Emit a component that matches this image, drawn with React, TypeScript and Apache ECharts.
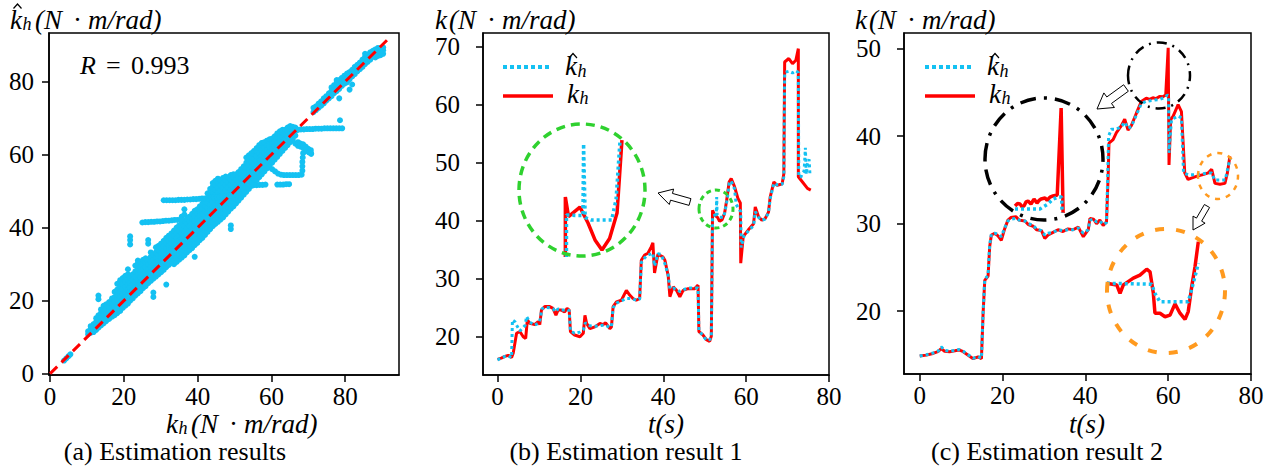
import React, { useEffect, useRef } from 'react';
import * as echarts from 'echarts';

// ---------------- DATA ----------------
const TICKS_A = [0, 20, 40, 60, 80];
const TICKS_T = [0, 20, 40, 60, 80];
const TICKS_KB = [20, 30, 40, 50, 60, 70];
const TICKS_KC = [20, 30, 40, 50];

// (a) scatter: columns of k_h value -> estimated values
const scatterColumns: Array<[number, number[]]> = [
  [3.8, [3.6]], [4.4, [4.2]], [5.0, [4.8]], [5.5, [5.3]],
  [10.3, [10.8, 11.6]], [11.0, [11.2, 12.2, 13.0]], [11.8, [11.4, 12.4, 13.6]],
  [12.5, [12.0, 13.0, 14.2, 15.2]], [13.1, [12.6, 13.6, 14.8, 16.0, 20.4, 21.4]],
  [13.8, [13.2, 14.2, 15.4, 16.6, 17.6]], [14.5, [13.8, 14.8, 16.0, 17.2, 18.6]],
  [15.2, [14.4, 15.4, 16.6, 17.8, 19.0]], [16.0, [15.0, 16.0, 17.2, 18.4, 19.6]],
  [16.8, [15.6, 16.8, 18.0, 19.2, 20.6]], [17.5, [16.0, 17.4, 18.6, 19.8, 21.0, 22.4]],
  [18.2, [16.6, 17.8, 19.0, 20.2, 21.6, 23.0, 24.6]], [19.0, [17.2, 18.4, 19.6, 21.0, 22.4, 23.8, 25.6]],
  [19.7, [18.0, 19.2, 20.4, 21.8, 23.2, 24.6, 26.2]], [20.4, [18.6, 19.8, 21.0, 22.4, 23.8, 25.2, 26.8]],
  [21.1, [19.2, 20.4, 21.6, 23.0, 24.4, 25.8, 27.2, 28.6]], [21.7, [20.0, 21.2, 22.4, 23.6, 25.0, 26.4, 35.4, 36.6, 37.6]],
  [22.4, [20.6, 21.8, 23.0, 24.4, 25.8, 27.2]], [23.1, [21.4, 22.6, 23.8, 25.2, 26.6, 28.0, 29.6]],
  [23.8, [22.0, 23.2, 24.4, 25.8, 27.2, 28.6, 30.2, 31.0]], [24.5, [22.6, 23.8, 25.0, 26.4, 27.8, 29.2, 30.6]],
  [25.2, [23.4, 24.6, 25.8, 27.2, 28.6, 30.0, 31.2]], [25.9, [24.0, 25.2, 26.4, 27.8, 29.2, 30.6, 31.6]],
  [26.6, [24.8, 26.0, 27.2, 28.6, 30.0, 31.2, 35.6, 36.6]], [27.3, [25.4, 26.6, 27.8, 29.2, 30.6, 32.0, 33.2]],
  [28.0, [21.0, 22.2, 26.0, 27.2, 28.4, 29.8, 31.2, 32.6]], [28.7, [26.6, 27.8, 29.0, 30.4, 31.8, 33.2, 34.6]],
  [29.4, [27.2, 28.4, 29.6, 31.0, 32.4, 33.8, 35.0]], [30.1, [27.8, 29.0, 30.2, 31.6, 33.0, 34.4, 35.6]],
  [30.8, [28.4, 29.6, 30.8, 32.2, 33.6, 35.0, 36.4]], [31.5, [24.4, 29.2, 30.4, 31.6, 33.0, 34.4, 35.8, 37.2]],
  [32.2, [29.8, 31.0, 32.2, 33.6, 35.0, 36.4, 37.8]], [32.9, [30.4, 31.6, 32.8, 34.2, 35.6, 37.0, 38.4]],
  [33.6, [30.0, 31.2, 32.4, 33.6, 35.0, 36.4, 37.8, 39.2]], [34.3, [30.6, 31.8, 33.0, 34.4, 35.8, 37.2, 38.6, 40.0]],
  [35.0, [31.2, 32.4, 33.6, 35.0, 36.4, 37.8, 39.2, 40.6]], [35.7, [31.8, 33.0, 34.2, 35.6, 37.0, 38.4, 39.8, 41.2, 43.0]],
  [36.4, [32.4, 33.6, 34.8, 36.2, 37.6, 39.0, 40.4, 41.8, 43.6, 45.0]], [37.1, [33.2, 34.4, 35.6, 37.0, 38.4, 39.8, 41.2, 42.4]],
  [37.8, [33.8, 35.0, 36.2, 37.6, 39.0, 40.4, 41.8, 43.0]], [38.5, [34.4, 35.6, 36.8, 38.2, 39.6, 41.0, 42.4, 43.8]],
  [39.2, [32.0, 35.2, 36.4, 37.6, 39.0, 40.4, 41.8, 43.2, 44.6]], [39.9, [35.8, 37.0, 38.2, 39.6, 41.0, 42.4, 43.8, 45.0]],
  [40.6, [36.6, 37.8, 39.0, 40.4, 41.8, 43.2, 44.6, 45.8]], [41.3, [37.2, 38.4, 39.6, 41.0, 42.4, 43.8, 45.2, 46.6]],
  [42.0, [38.0, 39.2, 40.4, 41.8, 43.2, 44.6, 46.0, 47.2]], [42.7, [38.8, 40.0, 41.2, 42.6, 44.0, 45.4, 46.8, 48.2, 49.4]],
  [43.4, [39.6, 40.8, 42.0, 43.4, 44.8, 46.2, 47.6, 49.0, 50.6]], [44.1, [40.4, 41.6, 42.8, 44.2, 45.6, 47.0, 48.4, 49.8, 51.2, 52.2]],
  [44.8, [41.0, 42.2, 43.4, 44.8, 46.2, 47.6, 49.0, 50.4, 51.8, 52.8]], [45.5, [41.6, 42.8, 44.0, 45.4, 46.8, 48.2, 49.6, 51.0, 52.4, 53.4]],
  [46.2, [42.2, 43.4, 44.6, 46.0, 47.4, 48.8, 50.2, 51.6, 53.0]], [46.9, [42.8, 44.0, 45.2, 46.6, 48.0, 49.4, 50.8, 52.2, 53.6]],
  [47.6, [43.6, 44.8, 46.0, 47.4, 48.8, 50.2, 51.6, 53.0, 54.0]], [48.3, [44.4, 45.6, 46.8, 48.2, 49.6, 51.0, 52.4, 53.8]],
  [49.0, [39.6, 40.6, 45.2, 46.4, 47.6, 49.0, 50.4, 51.8, 53.2, 54.4]], [49.7, [45.8, 47.0, 48.2, 49.6, 51.0, 52.4, 53.8, 54.6]],
  [50.4, [46.6, 47.8, 49.0, 50.4, 51.8, 53.2, 54.6]], [51.1, [47.4, 48.6, 49.8, 51.2, 52.6, 54.0, 55.2]],
  [51.8, [48.2, 49.4, 50.6, 52.0, 53.4, 54.8, 56.0]], [52.5, [49.0, 50.2, 51.4, 52.8, 54.2, 55.6, 56.8]],
  [53.2, [49.8, 51.0, 52.2, 53.6, 55.0, 56.4, 57.8, 59.2]], [53.9, [50.6, 51.8, 53.0, 54.4, 55.8, 57.2, 58.6, 59.8]],
  [54.6, [51.4, 52.6, 53.8, 55.2, 56.6, 58.0, 59.4, 60.4]], [55.3, [52.2, 53.4, 54.6, 56.0, 57.4, 58.8, 60.2, 61.0]],
  [56.0, [53.0, 54.2, 55.4, 56.8, 58.2, 59.6, 61.0, 61.8]], [56.7, [53.8, 55.0, 56.2, 57.6, 59.0, 60.4, 61.8, 62.6]],
  [57.4, [54.6, 55.8, 57.0, 58.4, 59.8, 61.2, 62.6, 63.2]], [58.1, [55.4, 56.6, 57.8, 59.2, 60.6, 62.0, 63.4]],
  [58.8, [56.2, 57.4, 58.6, 60.0, 61.4, 62.8, 63.8]], [59.5, [57.0, 58.2, 59.4, 60.8, 62.2, 63.6, 64.2]],
  [60.2, [57.8, 59.0, 60.2, 61.6, 63.0, 64.4]], [60.9, [58.6, 59.8, 61.0, 62.4, 63.8, 65.0]],
  [61.6, [59.4, 60.6, 61.8, 63.2, 64.6, 65.8]], [62.3, [60.2, 61.4, 62.6, 64.0, 65.4, 66.4]],
  [63.0, [61.0, 62.2, 63.4, 64.8, 66.0, 66.8]], [63.7, [61.8, 63.0, 64.2, 65.6, 66.8]],
  [64.4, [62.6, 63.8, 65.0, 66.4, 67.4]], [65.1, [63.4, 64.6, 65.8, 67.0, 67.8]],
  [65.8, [64.2, 65.4, 66.6, 67.6]], [66.5, [63.0, 65.2, 66.4, 67.4]], [67.2, [62.4, 63.4, 66.8]],
  [67.9, [62.2, 63.0]], [68.6, [61.8, 62.8]], [69.3, [61.4, 62.2]], [70.0, [60.8, 61.6]], [70.7, [60.4, 61.2]],
  [71.4, [71.6, 72.8]], [72.1, [72.2, 73.2]], [72.8, [72.8, 74.0]], [73.5, [73.4, 74.6]],
  [74.2, [74.0, 75.4]], [74.9, [74.8, 76.0]], [75.6, [75.4, 76.8]], [76.3, [76.0, 77.4, 78.4]],
  [77.0, [76.8, 78.0, 79.0]], [77.7, [77.4, 78.6, 79.8, 80.4]], [78.4, [75.4, 78.0, 79.2, 80.4]],
  [79.1, [78.8, 80.0, 81.0]], [79.8, [79.4, 80.6, 81.6]], [80.5, [79.8, 81.2, 82.2]],
  [81.2, [77.8, 80.6, 81.8, 82.6]], [81.9, [79.2, 81.4, 82.4, 83.2]], [82.6, [82.0, 83.0, 84.0]],
  [83.3, [82.8, 83.8, 84.6]], [84.0, [83.4, 84.4, 85.2]], [84.7, [84.0, 85.0, 86.0]],
  [85.4, [84.8, 85.8, 86.8, 87.6]], [86.1, [85.4, 86.4, 87.4]], [86.8, [86.0, 87.0, 88.0]],
  [87.5, [86.8, 87.6, 88.4]], [88.2, [86.6, 87.4, 88.2, 88.8]], [88.9, [87.0, 87.8, 88.6, 89.2]],
  [89.6, [87.2, 88.2, 89.0]], [90.3, [87.6, 88.6, 89.4]],
];
const streakA: number[][] = [[25, 41.4], [25.8, 41.5], [26.6, 41.5], [27.4, 41.6], [28.2, 41.6], [29, 41.7], [29.8, 41.7], [30.6, 41.8], [31.4, 41.9], [32.2, 41.9], [33, 42.0], [33.8, 42.1], [34.6, 42.1], [35.4, 42.2]];
const streakB: number[][] = [[30.8, 47.5], [31.6, 47.5], [32.4, 47.5], [33.2, 47.5], [34, 47.5], [34.8, 47.6], [35.6, 47.6], [36.4, 47.6], [37.2, 47.7], [38, 47.7], [38.8, 47.8], [39.6, 47.8], [40.4, 47.9], [41.2, 48], [42, 48], [42.8, 48.1], [43.6, 48.2], [44.4, 48.3], [45.2, 48.3], [46, 48.4], [46.8, 48.5], [47.6, 48.6], [48.4, 48.7], [49.2, 48.8]];
const streakC: number[][] = [[55.2, 51.6], [56, 51.6], [56.8, 51.7], [57.6, 51.7], [58.4, 51.8], [61.6, 51.8], [62.4, 51.8], [63.2, 51.8], [64, 51.9], [64.8, 51.9]];
const streakD: number[][] = [[57, 58.4], [57.8, 57.8], [58.6, 57.2], [59.4, 56.6], [60.2, 56], [61, 55.4], [61.8, 54.8], [62.6, 54.5], [63.4, 54.4], [64.2, 54.4], [65, 54.4], [65.8, 54.4], [66.6, 54.4], [67.4, 54.4], [68.2, 54.5], [68.4, 55.6], [68.4, 56.8], [68.4, 58], [68.5, 59.2], [68.6, 60.4], [69.4, 61.2], [70.2, 60.6], [70.8, 60.2]];
const streakE: number[][] = [[66.4, 66.6], [67.2, 66.8], [68, 66.9], [68.8, 66.9], [69.6, 67], [70.4, 67], [71.2, 67], [72, 67.1], [72.8, 67.1], [73.6, 67.1], [74.4, 67.2], [75.2, 67.2], [76, 67.2], [76.8, 67.2], [77.6, 67.2], [78.4, 67.2], [79.2, 67.2], [78.6, 69.4]];
const identityLine: number[][] = [[0, 0], [92, 92]];

// (b) estimation result 1: [t, k]
const kB: number[][] = [[0, 16.1], [0.9, 16.3], [1.8, 16.6], [2.6, 16.8], [3.4, 16.4], [3.8, 17.2], [4.6, 20.6], [5.4, 20.9], [6.2, 20.0], [6.8, 19.7], [7.2, 22.9], [7.8, 22.3], [9.0, 22.1], [9.8, 22.6], [10.2, 22.1], [10.6, 24.6], [11.4, 25.2], [12.6, 25.2], [13.4, 24.9], [14.1, 23.7], [14.6, 24.6], [15.4, 24.6], [16.2, 24.3], [16.8, 24.9], [17.3, 24.6], [17.6, 20.9], [18.6, 20.3], [19.9, 20.0], [20.7, 20.6], [21.1, 23.7], [21.5, 22.3], [22.3, 21.4], [23.5, 21.7], [24.7, 22.3], [25.5, 22.1], [26.1, 22.4], [27.1, 21.4], [27.5, 21.7], [27.9, 25.2], [28.7, 26.0], [29.9, 26.3], [31.1, 28.0], [31.9, 27.2], [32.7, 26.6], [33.5, 26.3], [34.3, 26.6], [34.7, 33.2], [35.5, 34.1], [36.3, 34.4], [37.1, 35.5], [37.5, 36.2], [37.9, 31.0], [38.7, 34.2], [39.9, 33.8], [40.4, 33.2], [41.2, 30.5], [41.6, 26.9], [42.4, 28.6], [43.2, 28.0], [44.0, 26.9], [44.8, 28.0], [46.0, 28.3], [47.6, 28.3], [48.4, 28.9], [48.6, 20.9], [49.6, 20.3], [50.4, 19.5], [51.2, 19.2], [51.6, 20.1], [51.9, 41.8], [52.4, 41.0], [53.1, 40.6], [53.6, 39.9], [54.2, 40.2], [54.8, 41.3], [55.3, 43.5], [55.9, 46.7], [56.4, 47.3], [57.2, 45.9], [58.0, 43.9], [58.6, 43.1], [58.7, 32.7], [59.3, 37.3], [60.5, 38.4], [61.8, 39.5], [62.2, 42.4], [63.0, 40.7], [63.8, 40.1], [64.6, 40.4], [65.4, 41.5], [65.8, 44.1], [66.7, 46.7], [67.5, 46.1], [68.7, 46.4], [69.1, 48.1], [69.3, 67.4], [70.3, 68.0], [71.2, 67.1], [72.0, 67.7], [72.6, 69.7], [72.6, 47.6], [73.6, 46.7], [74.8, 45.6], [75.6, 45.3]];
const kHatB: number[][] = [[0, 16.0], [0.9, 16.3], [1.8, 16.6], [2.6, 16.7], [3.4, 16.4], [3.6, 22.9], [4.2, 22.6], [4.6, 22.0], [5.4, 21.0], [6.2, 21.6], [6.7, 22.0], [7.0, 23.5], [7.8, 22.5], [9.0, 22.0], [9.8, 22.3], [10.3, 23.0], [10.7, 24.8], [11.4, 25.1], [12.6, 25.0], [13.4, 24.8], [14.1, 24.3], [14.6, 24.8], [15.4, 24.6], [16.2, 24.6], [16.8, 24.7], [17.3, 24.5], [17.6, 21.0], [18.6, 20.6], [19.9, 20.8], [20.7, 21.2], [21.2, 22.4], [22.3, 21.9], [23.5, 21.8], [24.7, 21.9], [25.5, 22.0], [26.1, 22.0], [27.1, 21.6], [27.5, 21.8], [27.9, 25.0], [28.7, 25.8], [29.9, 26.2], [31.1, 26.6], [31.9, 26.6], [32.7, 26.5], [33.5, 26.3], [34.3, 26.5], [34.7, 32.8], [35.5, 33.6], [36.3, 34.1], [37.1, 34.3], [37.5, 34.4], [37.9, 32.2], [38.7, 34.3], [39.5, 34.2], [40.4, 32.6], [41.2, 30.6], [41.6, 28.3], [42.4, 28.4], [43.2, 28.2], [44.0, 27.8], [44.8, 28.1], [46.0, 28.4], [47.6, 28.4], [48.4, 28.4], [48.6, 21.0], [49.6, 20.2], [50.4, 19.4], [51.2, 19.5], [51.6, 20.0], [51.9, 40.8], [52.5, 41.0], [52.8, 41.2], [52.9, 44.1], [53.0, 41.0], [53.6, 40.6], [54.6, 40.6], [55.0, 42.0], [55.5, 44.0], [55.9, 46.4], [56.4, 46.9], [57.2, 45.5], [57.6, 42.8], [58.3, 42.0], [58.7, 41.6], [58.8, 35.4], [59.5, 37.4], [60.5, 38.2], [61.8, 39.2], [62.2, 41.6], [63.0, 40.6], [63.8, 40.1], [64.6, 40.3], [65.4, 41.4], [65.8, 43.8], [66.7, 46.5], [67.5, 46.2], [68.7, 46.3], [69.1, 47.6], [69.3, 65.6], [70.3, 65.8], [71.2, 65.5], [72.0, 65.9], [72.6, 65.6], [72.7, 47.8], [73.2, 47.5], [73.6, 48.3], [74.0, 48.6], [74.3, 52.6], [74.5, 48.0], [74.8, 49.8], [75.2, 50.6], [75.4, 48.0]];
// (b) magnified detail (t 48.6–56.8, k 39.3–45.1)
const zoomKB: number[][] = [[51.65, 39.3], [51.65, 41.9], [51.85, 41.05], [52.57, 41.46], [53.08, 40.77], [53.52, 40.04], [53.96, 39.6], [54.44, 40.1], [54.91, 41.2], [55.22, 44.36]];
const zoomKHatB: number[][] = [[51.72, 39.3], [51.72, 41.12], [52.3, 41.1], [52.76, 41.1], [52.8, 44.2], [52.9, 41.0], [53.3, 40.9], [54.57, 40.9], [54.85, 41.8], [55.1, 44.36]];

// (c) estimation result 2
const kC: number[][] = [[0, 14.85], [1.6, 14.96], [3.2, 15.15], [4.4, 15.35], [5.2, 15.7], [6.0, 15.4], [7.2, 15.35], [8.5, 15.45], [9.5, 15.55], [10.5, 15.35], [11.7, 14.95], [12.9, 14.55], [14.1, 14.75], [14.9, 14.55], [15.3, 19.7], [15.7, 23.5], [16.5, 24.0], [16.9, 27.4], [17.3, 28.7], [18.1, 28.9], [18.9, 28.6], [19.7, 28.1], [20.5, 29.4], [21.3, 30.4], [22.0, 30.7], [23.2, 30.8], [24.0, 30.4], [25.4, 30.3], [26.2, 29.9], [27.4, 29.7], [28.2, 29.3], [29.4, 29.2], [30.2, 28.3], [31.0, 28.7], [32.2, 29.0], [33.4, 29.3], [34.6, 29.1], [35.8, 29.4], [37.0, 29.3], [38.3, 29.6], [39.5, 28.5], [40.7, 29.3], [41.1, 30.6], [42.0, 30.5], [42.7, 30.0], [43.5, 30.4], [44.3, 29.8], [45.1, 30.2], [45.5, 35.4], [45.7, 39.2], [46.7, 39.6], [47.5, 40.4], [48.7, 41.2], [49.5, 41.95], [50.3, 40.7], [51.1, 41.2], [52.3, 42.6], [53.5, 43.97], [54.7, 44.35], [55.5, 44.2], [56.3, 44.4], [57.1, 44.3], [57.9, 44.55], [58.7, 44.5], [59.4, 44.7], [60.0, 50.1], [60.2, 36.7], [60.6, 41.9], [61.2, 42.3], [62.4, 43.6], [63.2, 42.8], [64.0, 35.8], [64.8, 35.05], [65.6, 35.2], [66.8, 35.4], [68.4, 35.6], [69.7, 35.8], [70.5, 36.2], [71.3, 34.6], [72.5, 34.5], [73.7, 34.6], [74.3, 35.8], [74.9, 37.7]];
const kHatC: number[][] = [[0, 14.85], [1.6, 15.0], [3.2, 15.2], [4.4, 15.4], [5.2, 15.9], [6.0, 15.5], [7.2, 15.4], [8.5, 15.5], [9.5, 15.6], [10.5, 15.4], [11.7, 15.0], [12.9, 14.6], [14.1, 14.8], [14.9, 14.6], [15.3, 19.9], [15.7, 23.6], [16.5, 24.1], [16.9, 27.6], [17.3, 28.8], [18.1, 28.9], [18.9, 28.8], [19.7, 28.5], [20.5, 29.5], [21.3, 30.3], [22.0, 30.5], [23.2, 30.6], [24.0, 30.4], [25.4, 30.3], [26.2, 30.0], [27.4, 29.8], [28.2, 29.4], [29.4, 29.2], [30.2, 28.7], [31.0, 28.9], [32.2, 29.0], [33.4, 29.3], [34.6, 29.2], [35.8, 29.3], [37.0, 29.3], [38.3, 29.5], [39.5, 28.9], [40.7, 29.3], [41.1, 30.4], [42.0, 30.5], [42.7, 30.2], [43.5, 30.3], [44.3, 29.9], [45.1, 30.1], [45.4, 35.6], [45.6, 40.0], [46.3, 40.8], [47.5, 40.8], [48.7, 41.1], [49.5, 41.6], [50.3, 40.9], [51.1, 41.1], [52.3, 42.4], [53.5, 43.7], [54.7, 44.0], [56.3, 44.1], [57.9, 44.2], [59.0, 44.4], [59.8, 44.7], [60.1, 44.6], [60.2, 38.1], [60.8, 41.9], [62.4, 42.3], [63.2, 42.1], [63.7, 35.8], [64.8, 35.6], [66.8, 35.6], [68.4, 35.7], [69.7, 35.8], [70.5, 35.8], [71.2, 35.0], [72.5, 35.0], [73.8, 35.0], [74.5, 36.6], [75.0, 37.4]];
// (c) magnified details
const zoomKC1: number[][] = [[54.08, 44.15], [54.4, 44.3], [54.72, 44.27], [55.0, 44.1], [55.23, 44.15], [55.5, 44.4], [55.75, 44.45], [56.13, 44.27], [56.52, 44.57], [56.9, 44.33], [57.2, 44.5], [57.42, 44.57], [57.93, 44.63], [58.2, 44.5], [58.57, 44.69], [58.95, 44.76], [59.5, 44.82], [60.0, 50.09], [60.25, 43.72]];
const zoomKHatC1: number[][] = [[54.08, 43.97], [55.0, 43.97], [56.0, 43.97], [57.28, 43.97], [58.31, 44.27], [58.95, 44.57], [59.6, 44.69], [60.07, 44.69], [60.12, 43.72]];
const zoomKC2: number[][] = [[67.18, 35.78], [67.99, 35.71], [68.26, 35.35], [68.53, 35.71], [69.34, 36.0], [69.88, 36.13], [70.43, 36.38], [70.7, 36.27], [70.97, 35.35], [71.1, 34.5], [71.51, 34.5], [71.92, 34.35], [72.33, 34.42], [72.73, 34.9], [73.14, 34.5], [73.55, 34.24], [73.81, 34.57], [74.09, 35.63], [74.36, 36.49], [74.63, 37.56]];
const zoomKHatC2: number[][] = [[67.18, 35.78], [70.83, 35.74], [71.1, 35.35], [71.51, 34.99], [73.81, 34.99], [74.22, 35.78], [74.63, 36.63]];

// ---------------- STYLE ----------------
const CYAN = '#14c1f2';
const RED = '#ff0000';
const SERIF = 'Liberation Serif';

function txt(x: number, y: number, text: string, size: number, italic: boolean, align: string = 'left') {
  return {
    type: 'text', x, y, silent: true, z: 100,
    style: { text, font: (italic ? 'italic ' : '') + size + 'px "Liberation Serif"', fill: '#000', align, verticalAlign: 'middle' },
  };
}
function hat(cx: number, cy: number) {
  return {
    type: 'polyline', silent: true, z: 100,
    shape: { points: [[cx - 4, cy + 2.5], [cx, cy - 2], [cx + 4, cy + 2.5]] },
    style: { stroke: '#000', lineWidth: 1.2, fill: 'none' },
  };
}
function unitLabel(x: number, y: number, withSub: boolean) {
  const els: any[] = [txt(x, y, 'k', 27, true)];
  let px = x + 14;
  if (withSub) { els.push(txt(x + 12.5, y + 4, 'h', 18, true)); px = x + 25; }
  els.push(txt(px, y, '(N', 27, true));
  els.push(txt(px + 38, y, '·', 27, false));
  els.push(txt(px + 53, y, 'm/rad)', 27, true));
  return els;
}
function ellipse(cx: number, cy: number, rx: number, ry: number, color: string, dash: number[], w: number) {
  return { type: 'ellipse', silent: true, z: 50, shape: { cx, cy, rx, ry }, style: { fill: 'none', stroke: color, lineWidth: w, lineDash: dash } };
}
function arrow(tail: number[], tip: number[], hl: number, hw: number, sw: number) {
  const dx = tip[0] - tail[0], dy = tip[1] - tail[1];
  const L = Math.hypot(dx, dy);
  const ux = dx / L, uy = dy / L, nx = -uy, ny = ux;
  const bx = tip[0] - ux * hl, by = tip[1] - uy * hl;
  const pts = [tip, [bx + nx * hw, by + ny * hw], [bx + nx * sw, by + ny * sw], [tail[0] + nx * sw, tail[1] + ny * sw],
    [tail[0] - nx * sw, tail[1] - ny * sw], [bx - nx * sw, by - ny * sw], [bx - nx * hw, by - ny * hw]];
  return { type: 'polygon', silent: true, z: 60, shape: { points: pts }, style: { fill: '#fff', stroke: '#000', lineWidth: 1 } };
}
function legend(x: number, y1: number, y2: number, lx: number) {
  return [
    { type: 'line', silent: true, z: 100, shape: { x1: x, y1, x2: x + 47, y2: y1 }, style: { stroke: CYAN, lineWidth: 4, lineDash: [4, 3] } },
    { type: 'line', silent: true, z: 100, shape: { x1: x, y1: y2, x2: x + 50, y2 }, style: { stroke: RED, lineWidth: 3.5 } },
    txt(lx, y1 - 1, 'k', 27, true), hat(lx + 8, 55.5), txt(lx + 12.5, y1 + 4, 'h', 18, true),
    txt(lx + 2, y2 - 2, 'k', 27, true), txt(lx + 14.5, y2 + 2, 'h', 18, true),
  ];
}

function mainX(gi: number, min: number, max: number, ticks: number[]) {
  return {
    type: 'value', gridIndex: gi, min, max,
    axisLine: { show: true, onZero: false, lineStyle: { color: '#000', width: 1.5 } },
    axisTick: { show: true, length: 7, customValues: ticks, lineStyle: { color: '#000', width: 1.5 } },
    axisLabel: { show: true, customValues: ticks, margin: 9, fontSize: 25, fontFamily: SERIF, color: '#000' },
    splitLine: { show: false },
  };
}
function mainY(gi: number, min: number, max: number, ticks: number[], margin: number) {
  return {
    type: 'value', gridIndex: gi, min, max,
    axisLine: { show: true, onZero: false, lineStyle: { color: '#000', width: 1.5 } },
    axisTick: { show: true, length: 7, customValues: ticks, lineStyle: { color: '#000', width: 1.5 } },
    axisLabel: { show: true, customValues: ticks, margin, fontSize: 25, fontFamily: SERIF, color: '#000' },
    splitLine: { show: false },
  };
}
function hiddenAxis(gi: number, min: number, max: number) {
  return { type: 'value', gridIndex: gi, min, max, show: false, splitLine: { show: false } };
}
function redLine(data: number[][], xi: number, w = 3) {
  return { type: 'line', xAxisIndex: xi, yAxisIndex: xi, data, symbol: 'none', showSymbol: false, silent: true, z: 3, lineStyle: { color: RED, width: w } };
}
function cyanLine(data: number[][], xi: number, w = 3) {
  return { type: 'line', xAxisIndex: xi, yAxisIndex: xi, data, symbol: 'none', showSymbol: false, silent: true, z: 4, lineStyle: { color: CYAN, width: w, type: [3, 3] } };
}

export default function App() {
  const ref = useRef<HTMLDivElement>(null);
  useEffect(() => {
    const chart = echarts.init(ref.current as HTMLDivElement, null, { renderer: 'svg' });
    const scatterPts: number[][] = [];
    scatterColumns.forEach(([x, ys]) => ys.forEach((y) => scatterPts.push([x, y])));
    [streakA, streakB, streakC, streakD, streakE].forEach((s) => s.forEach((p) => scatterPts.push(p)));

    const option: any = {
      animation: false,
      backgroundColor: '#fff',
      grid: [
        { show: true, borderColor: '#000', borderWidth: 1.5, left: 49, top: 33, width: 350, height: 342 },
        { show: true, borderColor: '#000', borderWidth: 1.5, left: 483, top: 33, width: 346, height: 342 },
        { show: true, borderColor: '#000', borderWidth: 1.5, left: 904, top: 33, width: 347, height: 341 },
        { show: false, left: 517, top: 123, width: 130, height: 134 },
        { show: false, left: 984, top: 98, width: 120, height: 122 },
        { show: false, left: 1107, top: 229, width: 118, height: 124 },
      ],
      xAxis: [
        mainX(0, -0.3, 94.6, TICKS_A),
        mainX(1, -3.5, 80, TICKS_T),
        mainX(2, -3.8, 80, TICKS_T),
        hiddenAxis(3, 48.6, 56.8),
        hiddenAxis(4, 50.1, 65.5),
        hiddenAxis(5, 67.2, 76.8),
      ],
      yAxis: [
        mainY(0, -0.36, 93.3, TICKS_A, 15),
        mainY(1, 13.4, 72.4, TICKS_KB, 23),
        mainY(2, 12.8, 51.8, TICKS_KC, 23),
        hiddenAxis(3, 39.3, 45.1),
        hiddenAxis(4, 43.3, 50.7),
        hiddenAxis(5, 32.8, 38.1),
      ],
      series: [
        { type: 'scatter', xAxisIndex: 0, yAxisIndex: 0, data: scatterPts, symbolSize: 6, silent: true, z: 2, itemStyle: { color: CYAN, opacity: 1 } },
        { type: 'line', xAxisIndex: 0, yAxisIndex: 0, data: identityLine, symbol: 'none', silent: true, z: 5, lineStyle: { color: RED, width: 3, type: [10, 6] } },
        redLine(kB, 1), cyanLine(kHatB, 1),
        redLine(kC, 2), cyanLine(kHatC, 2),
        redLine(zoomKB, 3, 3.5), cyanLine(zoomKHatB, 3, 3.5),
        redLine(zoomKC1, 4, 3.5), cyanLine(zoomKHatC1, 4, 3.5),
        redLine(zoomKC2, 5, 3.5), cyanLine(zoomKHatC2, 5, 3.5),
      ],
      graphic: [
        txt(10, 20, 'k', 27, true), hat(17.5, 6), txt(22.5, 24, 'h', 18, true),
        txt(35, 20, '(N', 27, true), txt(73, 20, '·', 27, false), txt(88, 20, 'm/rad)', 27, true),
        ...unitLabel(166, 424, true),
        ...unitLabel(435, 20, false),
        ...unitLabel(855, 20, false),
        txt(666, 424, 't(s)', 27, true, 'center'),
        txt(1087, 424, 't(s)', 27, true, 'center'),
        txt(175, 451, '(a) Estimation results', 26, false, 'center'),
        txt(626, 451, '(b) Estimation result 1', 26, false, 'center'),
        txt(1047, 451, '(c) Estimation result 2', 26, false, 'center'),
        txt(80, 65, 'R', 26, true), txt(106, 65, '=', 26, false), txt(131, 65, '0.993', 26, false),
        ...legend(503, 67, 96, 565),
        ...legend(925, 67, 96, 987),
        ellipse(582, 190, 63, 66, '#2fd12f', [9, 6], 3.5),
        ellipse(716, 209, 17, 19, '#2fd12f', [5, 4], 3),
        arrow([690, 202], [658, 193], 14, 8, 3.5),
        ellipse(1044, 159, 59, 61, '#000', [16, 8, 3, 8], 3.5),
        ellipse(1159, 75.5, 31, 33, '#000', [10, 6, 2, 6], 2.5),
        arrow([1126, 88], [1097, 109], 15, 9, 4),
        ellipse(1218, 176, 20, 23, '#ff9a1f', [5, 6], 2.5),
        ellipse(1166, 291, 59, 62, '#ff9a1f', [9, 12], 4),
        arrow([1207, 206], [1193, 230], 12, 7, 3),
      ],
    };
    chart.setOption(option);
    return () => chart.dispose();
  }, []);
  return <div ref={ref} style={{ position: 'absolute', left: 0, top: 0, width: 1276, height: 468, background: '#fff' }} />;
}
